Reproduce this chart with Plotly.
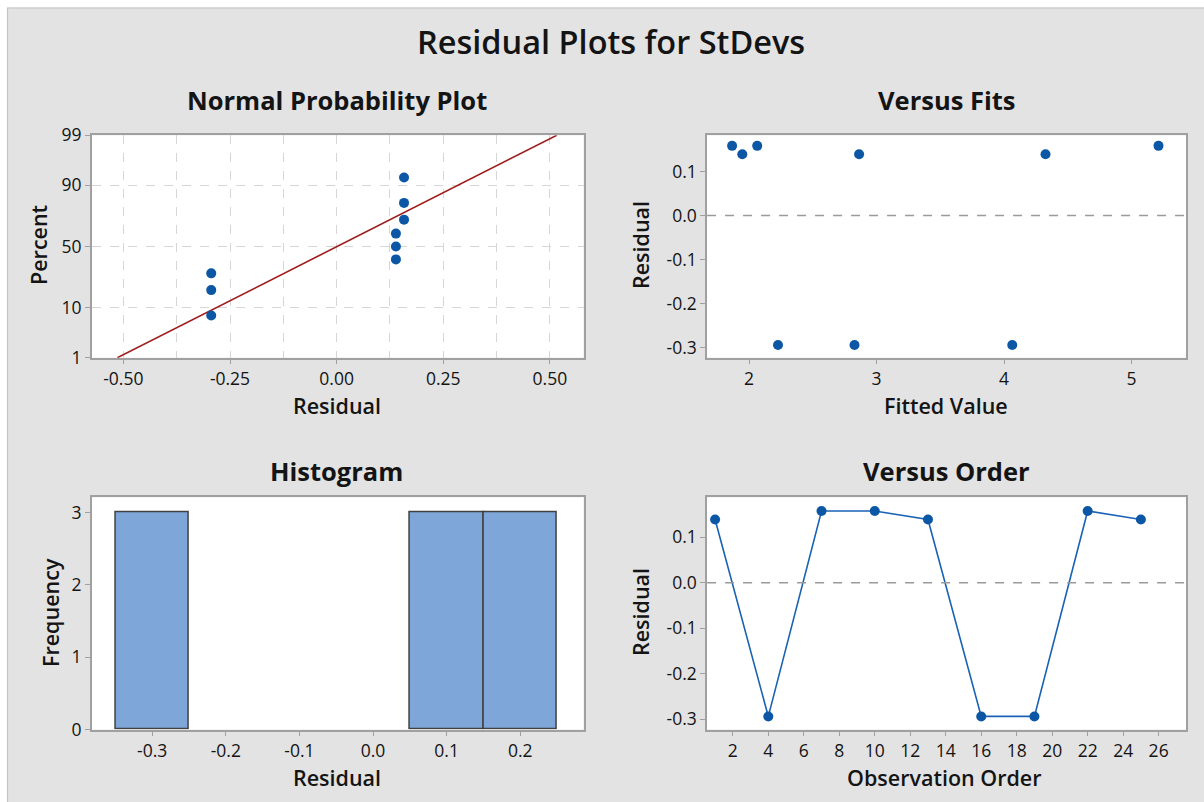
import numpy as np
import plotly.graph_objects as go
from statistics import NormalDist

# ---------------- data ----------------
observation_order = [1, 4, 7, 10, 13, 16, 19, 22, 25]
residuals = [0.139, -0.294, 0.158, 0.158, 0.139, -0.294, -0.294, 0.158, 0.139]
fitted_values = [1.947, 2.227, 1.867, 2.064, 2.863, 2.827, 4.064, 5.211, 4.325]

prob_ticks = [1, 10, 50, 90, 99]
fits_ticks = [2, 3, 4, 5]
order_ticks = list(range(2, 27, 2))
resid_ticks = [-0.3, -0.2, -0.1, 0.0, 0.1]
npp_x_ticks = [-0.50, -0.25, 0.00, 0.25, 0.50]
hist_x_ticks = [-0.3, -0.2, -0.1, 0.0, 0.1, 0.2]
freq_ticks = [0, 1, 2, 3]

# ---------------- derived ----------------
nd = NormalDist()
W, H = 1204, 802
n = len(residuals)
sorted_res = sorted(residuals)
pct = [(i - 0.3) / (n + 0.4) for i in range(1, n + 1)]
z_pts = [nd.inv_cdf(p) for p in pct]
mu = float(np.mean(residuals))
sd = float(np.std(residuals, ddof=1))
z_lo, z_hi = nd.inv_cdf(0.01), nd.inv_cdf(0.99)
line_x = [mu + z_lo * sd, mu + z_hi * sd]
line_z = [z_lo, z_hi]


def fmt(v, d):
    return f"{v:.{d}f}"


FONT = "Open Sans"
TXT = "#141414"
AXC = "#a0a0a0"
BLUE = "#0b57a6"


def px_x(p):
    return p / W


def px_y(p):
    return 1 - p / H


fig = go.Figure()

fig.add_trace(go.Scatter(x=line_x, y=line_z, mode="lines",
                         line=dict(color="#a01b1b", width=1.6),
                         xaxis="x", yaxis="y", showlegend=False))
fig.add_trace(go.Scatter(x=sorted_res, y=z_pts, mode="markers",
                         marker=dict(color=BLUE, size=10),
                         xaxis="x", yaxis="y", showlegend=False))
fig.add_trace(go.Scatter(x=fitted_values, y=residuals, mode="markers",
                         marker=dict(color=BLUE, size=10),
                         xaxis="x2", yaxis="y2", showlegend=False))
fig.add_trace(go.Histogram(x=residuals, xbins=dict(start=-0.35, end=0.25, size=0.1),
                           marker=dict(color="#7ea6d9", line=dict(color="#404040", width=1.5)),
                           xaxis="x3", yaxis="y3", showlegend=False))
fig.add_trace(go.Scatter(x=observation_order, y=residuals, mode="lines+markers",
                         line=dict(color="#1a62b5", width=1.6),
                         marker=dict(color=BLUE, size=10),
                         xaxis="x4", yaxis="y4", showlegend=False))

xl = [px_x(91.8), px_x(583.6)]
xr = [px_x(707.1), px_x(1186.3)]
yt = [px_y(357.7), px_y(135.3)]
yb = [px_y(729.6), px_y(497.3)]

tickfont = dict(family=FONT, size=17.5, color=TXT)


def axis(domain, rng, tickvals, ticktext, anchor, **kw):
    d = dict(domain=domain, range=rng, tickvals=tickvals, ticktext=ticktext,
             anchor=anchor, showline=True, mirror=True, linecolor=AXC, linewidth=1.5,
             ticks="outside", ticklen=5, tickcolor=AXC, tickwidth=1.2,
             tickfont=tickfont, showgrid=False, zeroline=False, fixedrange=True,
             automargin=False)
    d.update(kw)
    return d


GRID = "#d6d6d6"
fig.update_layout(
    xaxis=axis(xl, [-0.574, 0.579], npp_x_ticks, [fmt(v, 2) for v in npp_x_ticks], "y",
               showgrid=True, gridcolor=GRID, griddash="dash", gridwidth=1.3,
               minor=dict(tick0=0, dtick=0.125, showgrid=True, gridcolor=GRID,
                          griddash="dash", gridwidth=1.3)),
    yaxis=axis(yt, [z_lo, z_hi], [nd.inv_cdf(p / 100) for p in prob_ticks],
               [str(p) for p in prob_ticks], "x",
               showgrid=True, gridcolor=GRID, griddash="dash", gridwidth=1.3),
    xaxis2=axis(xr, [1.671, 5.429], fits_ticks, [str(v) for v in fits_ticks], "y2"),
    yaxis2=axis(yt, [-0.323, 0.182], resid_ticks, [fmt(v, 1) for v in resid_ticks], "x2"),
    xaxis3=axis(xl, [-0.382, 0.286], hist_x_ticks, [fmt(v, 1) for v in hist_x_ticks], "y3"),
    yaxis3=axis(yb, [0, 3.21], freq_ticks, [str(v) for v in freq_ticks], "x3"),
    xaxis4=axis(xr, [0.55, 27.56], order_ticks, [str(v) for v in order_ticks], "y4"),
    yaxis4=axis(yb, [-0.323, 0.188], resid_ticks, [fmt(v, 1) for v in resid_ticks], "x4"),
    width=W, height=H,
    autosize=False,
    margin=dict(l=0, r=0, t=0, b=0, pad=0),
    paper_bgcolor="#e3e3e3",
    plot_bgcolor="#ffffff",
    bargap=0,
    showlegend=False,
)

for xa, ya in [("x2", "y2"), ("x4", "y4")]:
    fig.add_shape(type="line", xref=f"{xa} domain", yref=ya, x0=0, x1=1, y0=0, y1=0,
                  line=dict(color="#9a9a9a", width=1.6, dash="dash"))

fig.add_shape(type="rect", xref="paper", yref="paper", x0=-0.01, x1=1.01,
              y0=px_y(7.5), y1=1.01, fillcolor="#ffffff", line=dict(width=0), layer="above")
fig.add_shape(type="rect", xref="paper", yref="paper", x0=-0.01, x1=px_x(7),
              y0=-0.01, y1=1.01, fillcolor="#ffffff", line=dict(width=0), layer="above")
fig.add_shape(type="line", xref="paper", yref="paper", x0=px_x(7), x1=1.01,
              y0=px_y(8), y1=px_y(8), line=dict(color="#c4c4c4", width=1.2), layer="above")
fig.add_shape(type="line", xref="paper", yref="paper", x0=px_x(7.5), x1=px_x(7.5),
              y0=-0.01, y1=px_y(8), line=dict(color="#c4c4c4", width=1.2), layer="above")


def label(text, x, y, size, weight="normal", angle=0):
    fig.add_annotation(text=text, x=px_x(x), y=px_y(y), xref="paper", yref="paper",
                       xanchor="center", yanchor="middle", showarrow=False, textangle=angle,
                       font=dict(family=FONT, size=size, color=TXT, weight=weight))


label("Residual Plots for StDevs", 611, 42, 32.5, weight=600)
label("Normal Probability Plot", 337, 100, 25.5, weight="bold")
label("Versus Fits", 946, 100, 25.5, weight="bold")
label("Histogram", 336, 471, 25.5, weight="bold")
label("Versus Order", 946, 471, 25.5, weight="bold")

label("Residual", 337, 405, 21.5, weight=600)
label("Percent", 38, 245, 21.5, weight=600, angle=-90)
label("Fitted Value", 946, 405, 21.5, weight=600)
label("Residual", 640, 245, 21.5, weight=600, angle=-90)
label("Residual", 337, 777, 21.5, weight=600)
label("Frequency", 50, 613, 21.5, weight=600, angle=-90)
label("Observation Order", 945, 777, 21.5, weight=600)
label("Residual", 640, 612, 21.5, weight=600, angle=-90)

fig.write_html(
    "out.html",
    config={"displayModeBar": False},
    post_script="document.body.style.margin='0';document.body.style.overflow='hidden';",
)
